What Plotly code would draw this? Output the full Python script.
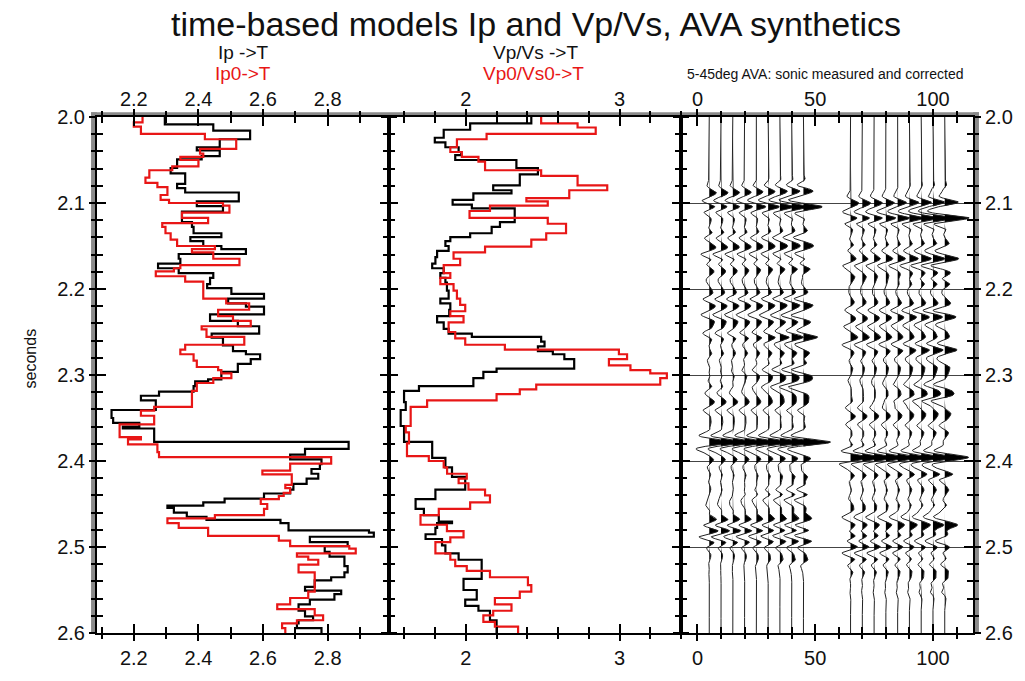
import numpy as np
import plotly.graph_objects as go

# ---------------- data ----------------
# Step logs: start time (s) of each constant step and its value
IP_T = [2.0000, 2.0085, 2.0159, 2.0259, 2.0352, 2.0389, 2.0456, 2.0493, 2.0593, 2.0656,
        2.0778, 2.0826, 2.0878, 2.0981, 2.1037, 2.1100, 2.1222, 2.1278, 2.1352, 2.1396,
        2.1444, 2.1500, 2.1537, 2.1593, 2.1648, 2.1704, 2.1759, 2.1815, 2.1870, 2.1944,
        2.1989, 2.2056, 2.2111, 2.2167, 2.2204, 2.2296, 2.2370, 2.2433, 2.2519, 2.2567,
        2.2656, 2.2722, 2.2759, 2.2815, 2.2870, 2.2963, 2.3050, 2.3074, 2.3130, 2.3193,
        2.3241, 2.3296, 2.3407, 2.3500, 2.3556, 2.3600, 2.3622, 2.3778, 2.3859, 2.3926,
        2.3981, 2.4037, 2.4093, 2.4148, 2.4204, 2.4267, 2.4333, 2.4378, 2.4437, 2.4481,
        2.4519, 2.4544, 2.4600, 2.4648, 2.4685, 2.4722, 2.4807, 2.4833, 2.4881, 2.4944,
        2.4989, 2.5056, 2.5111, 2.5222, 2.5296, 2.5352, 2.5389, 2.5463, 2.5507, 2.5548,
        2.5611, 2.5667, 2.5741, 2.5807, 2.5852, 2.5889, 2.5944]
IP_V = [2.296, 2.446, 2.560, 2.466, 2.395, 2.466, 2.410, 2.334, 2.314, 2.359,
        2.334, 2.359, 2.525, 2.395, 2.476, 2.349, 2.380, 2.385, 2.471, 2.375,
        2.415, 2.471, 2.547, 2.339, 2.344, 2.275, 2.339, 2.446, 2.436, 2.427,
        2.502, 2.603, 2.492, 2.547, 2.603, 2.436, 2.522, 2.588, 2.441, 2.476,
        2.507, 2.547, 2.591, 2.562, 2.522, 2.471, 2.430, 2.390, 2.385, 2.278,
        2.222, 2.268, 2.131, 2.136, 2.217, 2.166, 2.263, 2.865, 2.730, 2.684,
        2.781, 2.776, 2.750, 2.771, 2.735, 2.694, 2.684, 2.603, 2.481, 2.415,
        2.304, 2.324, 2.364, 2.425, 2.654, 2.679, 2.928, 2.943, 2.745, 2.862,
        2.791, 2.806, 2.852, 2.862, 2.852, 2.811, 2.760, 2.730, 2.842, 2.821,
        2.745, 2.710, 2.730, 2.755, 2.710, 2.705, 2.781]

IP0_T = [2.0000, 2.0063, 2.0111, 2.0196, 2.0259, 2.0370, 2.0426, 2.0463, 2.0500, 2.0574,
         2.0619, 2.0704, 2.0767, 2.0815, 2.0907, 2.0963, 2.1000, 2.1030, 2.1111, 2.1174,
         2.1233, 2.1278, 2.1352, 2.1426, 2.1500, 2.1537, 2.1574, 2.1648, 2.1722, 2.1759,
         2.1796, 2.1852, 2.1915, 2.2111, 2.2167, 2.2241, 2.2315, 2.2370, 2.2433, 2.2470,
         2.2556, 2.2648, 2.2704, 2.2759, 2.2833, 2.2907, 2.2944, 2.2981, 2.3037, 2.3093,
         2.3185, 2.3370, 2.3415, 2.3474, 2.3574, 2.3722, 2.3748, 2.3807, 2.3896, 2.3956,
         2.4030, 2.4111, 2.4156, 2.4278, 2.4315, 2.4370, 2.4407, 2.4444, 2.4500, 2.4556,
         2.4630, 2.4667, 2.4722, 2.4778, 2.4870, 2.4926, 2.4989, 2.5019, 2.5074, 2.5111,
         2.5148, 2.5204, 2.5296, 2.5519, 2.5593, 2.5667, 2.5722, 2.5796, 2.5852, 2.5889,
         2.5944]
IP0_V = [2.227, 2.200, 2.222, 2.420, 2.517, 2.405, 2.415, 2.344, 2.400, 2.319,
         2.248, 2.236, 2.273, 2.304, 2.283, 2.309, 2.476, 2.496, 2.349, 2.430,
         2.288, 2.298, 2.314, 2.334, 2.451, 2.380, 2.446, 2.527, 2.344, 2.324,
         2.268, 2.359, 2.415, 2.486, 2.557, 2.461, 2.507, 2.562, 2.410, 2.425,
         2.542, 2.359, 2.344, 2.385, 2.395, 2.461, 2.471, 2.502, 2.446, 2.395,
         2.380, 2.263, 2.222, 2.263, 2.156, 2.222, 2.182, 2.273, 2.278, 2.811,
         2.684, 2.598, 2.689, 2.669, 2.684, 2.664, 2.649, 2.593, 2.613, 2.603,
         2.451, 2.304, 2.339, 2.430, 2.649, 2.684, 2.867, 2.887, 2.705, 2.740,
         2.771, 2.710, 2.760, 2.740, 2.684, 2.644, 2.760, 2.786, 2.705, 2.659,
         2.669]

VPVS_T = [2.0000, 2.0074, 2.0148, 2.0241, 2.0296, 2.0352, 2.0407, 2.0444, 2.0500, 2.0593,
          2.0667, 2.0796, 2.0852, 2.0889, 2.0963, 2.1019, 2.1063, 2.1222, 2.1278, 2.1352,
          2.1396, 2.1444, 2.1500, 2.1556, 2.1630, 2.1704, 2.1759, 2.1815, 2.1870, 2.1926,
          2.2019, 2.2111, 2.2167, 2.2241, 2.2315, 2.2389, 2.2463, 2.2519, 2.2556, 2.2611,
          2.2667, 2.2722, 2.2759, 2.2815, 2.2926, 2.2963, 2.3037, 2.3130, 2.3185, 2.3315,
          2.3407, 2.3593, 2.3778, 2.3963, 2.4074, 2.4185, 2.4333, 2.4444, 2.4556, 2.4630,
          2.4704, 2.4722, 2.4778, 2.4852, 2.4907, 2.4981, 2.5074, 2.5148, 2.5259, 2.5370,
          2.5500, 2.5611, 2.5685, 2.5741, 2.5852]
VPVS_V = [2.426, 2.028, 1.856, 1.798, 1.867, 1.953, 1.970, 1.931, 2.329, 2.469,
          2.351, 2.178, 2.297, 2.049, 1.914, 2.039, 2.318, 2.222, 2.168, 2.028,
          1.899, 1.867, 1.888, 1.813, 1.802, 1.781, 1.856, 1.834, 1.867, 1.877,
          1.888, 1.834, 1.899, 1.892, 1.813, 1.856, 1.888, 2.039, 2.490, 2.512,
          2.469, 2.566, 2.641, 2.705, 2.200, 2.114, 2.049, 1.695, 1.598, 1.609,
          1.576, 1.598, 1.781, 1.867, 1.910, 1.996, 1.802, 1.673, 1.727, 1.824,
          1.910, 1.813, 1.802, 1.738, 1.845, 1.867, 1.953, 2.103, 2.103, 1.985,
          2.071, 1.996, 2.082, 2.157, 2.200]

VPVS0_T = [2.0000, 2.0074, 2.0122, 2.0196, 2.0259, 2.0352, 2.0407, 2.0463, 2.0519, 2.0619,
           2.0685, 2.0796, 2.0852, 2.0944, 2.0981, 2.1030, 2.1093, 2.1174, 2.1241, 2.1352,
           2.1426, 2.1507, 2.1574, 2.1648, 2.1722, 2.1815, 2.1870, 2.1944, 2.2019, 2.2111,
           2.2185, 2.2259, 2.2315, 2.2389, 2.2500, 2.2574, 2.2648, 2.2704, 2.2759, 2.2815,
           2.2889, 2.2944, 2.2981, 2.3037, 2.3111, 2.3167, 2.3222, 2.3296, 2.3370, 2.3593,
           2.3667, 2.3796, 2.3944, 2.4000, 2.4074, 2.4148, 2.4204, 2.4259, 2.4333, 2.4400,
           2.4481, 2.4556, 2.4630, 2.4741, 2.4815, 2.4889, 2.4944, 2.5074, 2.5148, 2.5222,
           2.5278, 2.5352, 2.5444, 2.5519, 2.5593, 2.5667, 2.5741, 2.5796, 2.5870, 2.5926]
VPVS0_V = [2.490, 2.727, 2.845, 2.135, 1.942, 1.899, 1.974, 2.082, 2.125, 2.490,
           2.727, 2.920, 2.673, 2.394, 2.533, 2.157, 2.024, 2.533, 2.652, 2.523,
           2.426, 2.125, 1.920, 1.963, 1.856, 1.899, 1.834, 1.920, 1.942, 1.963,
           1.996, 1.899, 1.985, 1.888, 1.931, 1.996, 2.254, 2.996, 3.049, 2.931,
           3.071, 3.200, 3.308, 3.265, 2.458, 2.351, 2.200, 1.748, 1.641, 1.609,
           1.630, 1.617, 1.759, 1.856, 1.878, 2.006, 1.953, 2.017, 2.125, 2.157,
           2.028, 1.824, 1.705, 1.877, 1.985, 1.899, 1.802, 1.899, 1.931, 2.006,
           2.157, 2.404, 2.426, 2.351, 2.189, 2.297, 2.178, 2.114, 2.189, 2.340]

# AVA synthetics: incidence angles (deg) and gather placement on the x axis
ANGLES = [5, 10, 15, 20, 25, 30, 35, 40, 45]
GATHER_SHIFT = [0, 60]                      # gather 1: measured logs, gather 2: corrected logs
SYN_WINDOWS = [(2.08, 2.535), (2.085, 2.555)]
WAVELET_HZ = 50.0
MAX_DEFLECTION = 11.5                        # x-axis units of the largest peak

T_TOP, T_BOT = 2.0, 2.6

# ---------------- synthetics computed from the logs ----------------
DT = 0.0005
t = np.round(np.arange(T_TOP, T_BOT + DT / 2, DT), 6)


def sample(tk, vk):
    idx = np.searchsorted(np.asarray(tk), t + 1e-9, side="right") - 1
    return np.asarray(vk)[np.clip(idx, 0, len(vk) - 1)]


def reflectivity(ipk, ipv, rk, rv, theta, win):
    ip = sample(ipk, ipv)
    r = sample(rk, rv)
    ipm = 0.5 * (ip[1:] + ip[:-1])
    rm = 0.5 * (r[1:] + r[:-1])
    dip = (ip[1:] - ip[:-1]) / ipm
    dr = (r[1:] - r[:-1]) / rm
    k2 = 1.0 / rm ** 2
    th = np.radians(theta)
    s2 = np.sin(th) ** 2
    tn2 = np.tan(th) ** 2
    rc = dip * (0.5 * (1 + tn2) - 4 * k2 * s2) + 4 * k2 * s2 * dr
    rc = np.concatenate([[0.0], rc])
    rc[(t < win[0]) | (t > win[1])] = 0.0
    return rc


tw = np.arange(-0.05, 0.05 + DT / 2, DT)
a = (np.pi * WAVELET_HZ * tw) ** 2
wavelet = (1 - 2 * a) * np.exp(-a)

logs = [(IP_T, IP_V, VPVS_T, VPVS_V), (IP0_T, IP0_V, VPVS0_T, VPVS0_V)]
synth = []
for g, (ipk, ipv, rk, rv) in enumerate(logs):
    for ang in ANGLES:
        rc = reflectivity(ipk, ipv, rk, rv, ang, SYN_WINDOWS[g])
        synth.append((ang + GATHER_SHIFT[g], np.convolve(rc, wavelet, mode="same")))
gain = MAX_DEFLECTION / max(s.max() for _, s in synth)

# ---------------- figure ----------------
RED = "rgb(232,22,22)"
FONT = "Arial, Liberation Sans, Helvetica, sans-serif"
fig = go.Figure()


def step_trace(tk, vk, color, xa, ya):
    return go.Scatter(x=list(vk) + [vk[-1]], y=list(tk) + [T_BOT], mode="lines",
                      line=dict(color=color, width=2.2, shape="vh"),
                      xaxis=xa, yaxis=ya, hoverinfo="skip", showlegend=False)


fig.add_trace(step_trace(IP_T, IP_V, "black", "x", "y"))
fig.add_trace(step_trace(IP0_T, IP0_V, RED, "x", "y"))
fig.add_trace(step_trace(VPVS_T, VPVS_V, "black", "x2", "y2"))
fig.add_trace(step_trace(VPVS0_T, VPVS0_V, RED, "x2", "y2"))

for pos, s in synth:
    amp = s * gain
    xf = np.concatenate([pos + np.clip(amp, 0, None), [pos, pos]])
    yf = np.concatenate([t, [t[-1], t[0]]])
    fig.add_trace(go.Scatter(x=xf, y=yf, mode="lines", fill="toself", fillcolor="black",
                             line=dict(width=0, color="black"), xaxis="x3", yaxis="y3",
                             hoverinfo="skip", showlegend=False))
    fig.add_trace(go.Scatter(x=pos + amp, y=t, mode="lines",
                             line=dict(color="#222", width=1),
                             xaxis="x3", yaxis="y3", hoverinfo="skip", showlegend=False))

# empty traces so that the overlaid tick axes are drawn
for n in (1, 2, 3):
    xs = "x" if n == 1 else f"x{n}"
    ys = "y" if n == 1 else f"y{n}"
    fig.add_trace(go.Scatter(x=[None], y=[None], xaxis=f"x{n + 3}", yaxis=ys,
                             showlegend=False, hoverinfo="skip"))
    fig.add_trace(go.Scatter(x=[None], y=[None], xaxis=xs, yaxis=f"y{n + 3}",
                             showlegend=False, hoverinfo="skip"))

TICKFONT = dict(family=FONT, size=20, color="#111")
OUT = dict(ticks="outside", ticklen=6, tickwidth=2, tickcolor="black")
IN = dict(ticks="inside", ticklen=9, tickwidth=2, tickcolor="black")
MIN_OUT = dict(ticks="outside", ticklen=4, tickwidth=1.5, tickcolor="black")
MIN_IN = dict(ticks="inside", ticklen=6, tickwidth=1.5, tickcolor="black")
COMMON = dict(showline=True, linewidth=2, linecolor="black", mirror="ticks",
              showgrid=False, zeroline=False, tickfont=TICKFONT, fixedrange=True)

X_SPECS = [  # domain, range, tick0, dtick, minor dtick, format
    ([0, 1 / 3], [2.086, 2.99], 2.2, 0.2, 0.1, ".1f"),
    ([1 / 3, 2 / 3], [1.5, 3.4], 2, 1, 0.2, "d"),
    ([2 / 3, 1], [-7, 117], 0, 50, 10, "d"),
]
layout = dict()
for i, (dom, rng, t0, dt_, mdt, fmt) in enumerate(X_SPECS):
    n = i + 1
    xa = "xaxis" if n == 1 else f"xaxis{n}"
    ya_ref = "y" if n == 1 else f"y{n}"
    x_ref = "x" if n == 1 else f"x{n}"
    layout[xa] = dict(COMMON, domain=dom, range=rng, tick0=t0, dtick=dt_, tickformat=fmt,
                      anchor=ya_ref, side="bottom",
                      minor=dict(MIN_OUT, dtick=mdt, tick0=t0), **OUT)
    layout[f"xaxis{n + 3}"] = dict(COMMON, range=rng, tick0=t0, dtick=dt_, tickformat=fmt,
                                   overlaying=x_ref, anchor=ya_ref, side="top",
                                   ticklabelstandoff=1,
                                   minor=dict(MIN_IN, dtick=mdt, tick0=t0), **IN)
    yname = "yaxis" if n == 1 else f"yaxis{n}"
    layout[yname] = dict(COMMON, domain=[0, 1], range=[T_BOT, T_TOP], tick0=2.0, dtick=0.1,
                         tickformat=".1f", anchor=x_ref,
                         side="right" if n == 3 else "left",
                         showticklabels=(n != 2),
                         minor=dict(MIN_OUT, dtick=0.02, tick0=2.0), **OUT)
    layout[f"yaxis{n + 3}"] = dict(COMMON, range=[T_BOT, T_TOP], tick0=2.0, dtick=0.1,
                                   overlaying=ya_ref, anchor=x_ref, showticklabels=False,
                                   side="right" if n == 3 else "left",
                                   minor=dict(MIN_IN, dtick=0.02, tick0=2.0), **IN)
layout["yaxis3"].update(showgrid=True, gridcolor="#444", gridwidth=1)

# plot area in pixels: x 97..982, y 117..657
W, H = 1025, 681
L, R, T, B = 97, 982, 117, 657


def px(xp):
    return (xp - L) / (R - L)


def py(yp):
    return (B - yp) / (B - T)


GRAY = "#8a8a8a"
shapes = [
    dict(type="rect", xref="paper", yref="paper", x0=px(91), x1=px(97), y0=0, y1=py(112),
         fillcolor=GRAY, line=dict(width=0), layer="below"),
    dict(type="rect", xref="paper", yref="paper", x0=px(91), x1=px(988), y0=1, y1=py(112),
         fillcolor=GRAY, line=dict(width=0), layer="below"),
    dict(type="rect", xref="paper", yref="paper", x0=1, x1=px(988), y0=0, y1=py(112),
         fillcolor=GRAY, line=dict(width=0), layer="below"),
]


def ann(text, xp, yp, size, color="#111", angle=0, family=FONT):
    return dict(text=text, xref="paper", yref="paper", x=px(xp), y=py(yp),
                xanchor="center", yanchor="middle", showarrow=False, textangle=angle,
                font=dict(family=family, size=size, color=color))


annotations = [
    ann("time-based models Ip and Vp/Vs, AVA synthetics", 541, 20, 34),
    ann("Ip ->T", 245, 50, 19),
    ann("Ip0->T", 245, 71, 19, RED),
    ann("Vp/Vs ->T", 540, 50, 19),
    ann("Vp0/Vs0->T", 538, 71, 19, RED),
    ann("5-45deg AVA: sonic measured and corrected", 833, 72, 14),
    ann("seconds", 30, 370, 16, angle=-90),
]

fig.update_layout(
    width=W, height=H, autosize=False,
    margin=dict(l=L, r=W - R, t=T, b=H - B, pad=0),
    paper_bgcolor="white", plot_bgcolor="white",
    showlegend=False, shapes=shapes, annotations=annotations,
    **layout,
)

fig.write_html("out.html")
